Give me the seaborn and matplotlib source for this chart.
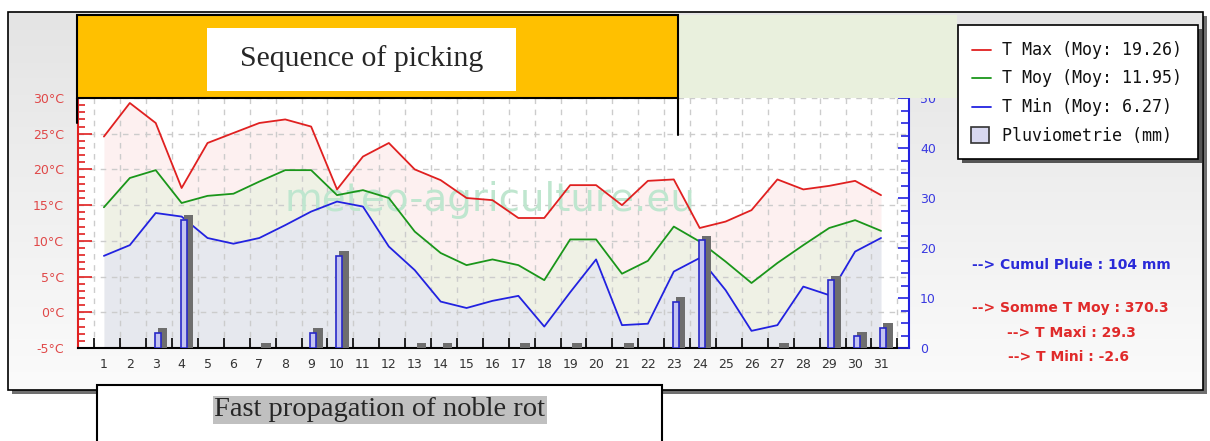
import numpy as np
import matplotlib
matplotlib.use("Agg")
import matplotlib.pyplot as plt
from matplotlib.patches import Rectangle
import seaborn as sns

# Daily data
days = np.arange(1, 32)
tmax = [24.6, 29.3, 26.5, 17.4, 23.7, 25.1, 26.5, 27.0, 26.0, 17.2, 21.8, 23.7, 20.0, 18.5, 16.0, 15.7,
        13.2, 13.2, 17.8, 17.8, 15.0, 18.4, 18.6, 11.8, 12.7, 14.3, 18.6, 17.2, 17.7, 18.4, 16.4]
tmoy = [14.7, 18.8, 19.9, 15.3, 16.3, 16.6, 18.3, 19.9, 19.9, 16.4, 17.1, 16.0, 11.3, 8.3, 6.6, 7.4,
        6.6, 4.5, 10.2, 10.2, 5.4, 7.2, 12.0, 9.9, 7.1, 4.1, 6.9, 9.4, 11.8, 12.9, 11.4]
tmin = [7.9, 9.4, 13.9, 13.4, 10.4, 9.6, 10.4, 12.2, 14.1, 15.5, 14.8, 9.2, 5.9, 1.5, 0.6, 1.6,
        2.3, -2.0, 2.8, 7.4, -1.8, -1.6, 5.7, 7.6, 3.1, -2.6, -1.8, 3.6, 2.4, 8.5, 10.4]
rain = [0, 0, 3.1, 25.7, 0, 0, 0.2, 0, 3.1, 18.5, 0, 0, 0.2, 0.2, 0, 0, 0.2, 0, 0.2, 0, 0.2, 0,
        9.3, 21.6, 0, 0, 0.2, 0, 13.6, 2.4, 4.1]
temp_ticks = [-5, 0, 5, 10, 15, 20, 25, 30]
rain_ticks = [0, 10, 20, 30, 40, 50]
legend_labels = ["T Max (Moy: 19.26)", "T Moy (Moy: 11.95)", "T Min (Moy: 6.27)", "Pluviometrie (mm)"]
summary = ["--> Cumul Pluie : 104 mm", "--> Somme T Moy : 370.3", "--> T Maxi : 29.3", "--> T Mini : -2.6"]

RED, GREEN, BLUE = "#e02020", "#1a961a", "#2222e0"
W, H = 1210, 441

sns.set_theme(style="white")
plt.rcParams["font.family"] = ["DejaVu Sans"]

fig = plt.figure(figsize=(W / 100, H / 100), dpi=100)
fig.patch.set_facecolor("white")

# background frame
bg = fig.add_axes([0, 0, 1, 1], zorder=-2)
bg.set_xlim(0, W)
bg.set_ylim(H, 0)
bg.axis("off")
bg.add_patch(Rectangle((12, 16), 1195, 378, fc="#707070", ec="none"))
grad = np.linspace(0, 1, 200).reshape(-1, 1)
bg.imshow(grad, cmap=matplotlib.colors.LinearSegmentedColormap.from_list("g", ["#e4e4e4", "#fbfbfb"]),
          extent=(8, 1203, 390, 12), aspect="auto", zorder=1)
bg.add_patch(Rectangle((8, 12), 1195, 378, fc="none", ec="black", lw=1.2, zorder=2))

# main temperature axes
ax = fig.add_axes([78 / W, 1 - 348 / H, (909 - 78) / W, 250 / H])
ax.set_facecolor("white")
ax.fill_between(days, tmoy, tmax, color="#fdf0f0", lw=0, zorder=0.2)
ax.fill_between(days, tmin, tmoy, color="#eff1e5", lw=0, zorder=0.2)
ax.fill_between(days, -5, tmin, color="#e6e8ee", lw=0, zorder=0.2)
ax.text(15.9, 15.7, "meteo-agriculture.eu", fontsize=28, color="#bfe6cf", ha="center", va="center", zorder=1)
sns.lineplot(x=days, y=tmax, ax=ax, color=RED, lw=1.3, legend=False, zorder=3)
sns.lineplot(x=days, y=tmoy, ax=ax, color=GREEN, lw=1.3, legend=False, zorder=3)
sns.lineplot(x=days, y=tmin, ax=ax, color=BLUE, lw=1.3, legend=False, zorder=3)

ax.set_xlim(0, 32.08)
ax.set_ylim(-5, 30)
ax.set_xlabel("")
ax.set_ylabel("")
ax.set_xticks(days)
ax.set_xticklabels([str(d) for d in days])
ax.set_xticks(np.arange(1, 33) - 0.37, minor=True)
ax.set_yticks(temp_ticks)
ax.set_yticklabels([f"{t}°C" for t in temp_ticks])
ax.set_yticks(np.arange(-5, 31, 1), minor=True)
ax.tick_params(axis="x", which="major", length=0, pad=7, labelsize=9, labelcolor="#333333")
ax.tick_params(axis="x", which="minor", bottom=True, direction="in", length=7, width=1.2, color="black")
ax.tick_params(axis="y", which="major", left=True, direction="in", length=10, width=1.2, color=RED,
               labelcolor="#e04848", labelsize=9, pad=10)
ax.tick_params(axis="y", which="minor", left=True, direction="in", length=5, width=1.2, color=RED)
ax.grid(axis="y", which="major", ls=(0, (4, 4)), color="#cccccc", lw=1)
ax.grid(axis="x", which="minor", ls=(0, (4, 4)), color="#cccccc", lw=1)
ax.set_axisbelow(True)
for s in ["top", "right"]:
    ax.spines[s].set_visible(False)
ax.spines["left"].set_color(RED)
ax.spines["left"].set_linewidth(1.5)
ax.spines["bottom"].set_color("black")
ax.spines["bottom"].set_linewidth(1.5)

# rain axes
ax2 = ax.twinx()
ax2.set_ylim(0, 50)
r = np.array(rain)
wet = r > 0
ax2.bar(days[wet] + 0.08, r[wet] + 0.9, width=0.37, align="edge", color="#6e6e6e", lw=0, zorder=1)
big = r >= 1
ax2.bar(days[big] - 0.03, r[big], width=0.23, align="edge", facecolor="#c4c4f0", edgecolor="#2828c8",
        lw=1.2, zorder=2)
ax2.set_yticks(rain_ticks)
ax2.set_yticks(np.arange(0, 50.1, 2.5), minor=True)
ax2.tick_params(axis="y", which="major", right=True, direction="in", length=8, width=1.2, color=BLUE,
                labelcolor="#3a3ae0", labelsize=9, pad=8)
ax2.tick_params(axis="y", which="minor", right=True, direction="in", length=6, width=1.2, color=BLUE)
ax2.grid(False)
for s in ["top", "left", "bottom"]:
    ax2.spines[s].set_visible(False)
ax2.spines["right"].set_color(BLUE)
ax2.spines["right"].set_linewidth(1.5)

# overlay (pixel coordinates)
top = fig.add_axes([0, 0, 1, 1], zorder=10)
top.set_xlim(0, W)
top.set_ylim(H, 0)
top.patch.set_alpha(0)
top.axis("off")

top.add_patch(Rectangle((678, 15), 279, 83, fc="#e9f0dd", ec="none"))
top.add_patch(Rectangle((77, 15), 601, 83, fc="#ffc000", ec="black", lw=1.5))
top.add_patch(Rectangle((207, 28), 309, 63, fc="white", ec="none"))
top.text(362, 59, "Sequence of picking", fontsize=21.5, family="Liberation Serif", ha="center", va="center")
top.plot([77, 77], [98, 123], color="black", lw=1.5)
top.plot([678, 678], [98, 135], color="black", lw=1.5)

# legend box
top.add_patch(Rectangle((962, 29), 240, 134, fc="#555555", ec="none"))
top.add_patch(Rectangle((958, 25), 240, 134, fc="white", ec="black", lw=1.2))
rows = [50, 78, 107, 136]
for yy, c in zip(rows[:3], [RED, GREEN, BLUE]):
    top.plot([972, 991], [yy, yy], color=c, lw=1.3)
top.add_patch(Rectangle((971, 127), 18, 16, fc="#d8d8f0", ec="#333333", lw=1.2))
for yy, lab in zip(rows, legend_labels):
    top.text(1002, yy, lab, fontsize=12, family="DejaVu Sans Mono", va="center", ha="left", color="#111111")

# summary text
top.text(972, 265, summary[0], color="#2a2ad8", fontsize=10, fontweight="bold", va="center")
top.text(972, 308, summary[1], color="#e02a2a", fontsize=10, fontweight="bold", va="center")
top.text(1007, 333, summary[2], color="#e02a2a", fontsize=10, fontweight="bold", va="center")
top.text(1008, 357, summary[3], color="#e02a2a", fontsize=10, fontweight="bold", va="center")

# bottom box
top.add_patch(Rectangle((97, 385), 565, 70, fc="white", ec="black", lw=1.5))
top.text(380, 410, "Fast propagation of noble rot", fontsize=20.5, family="Liberation Serif",
         ha="center", va="center",
         bbox=dict(facecolor="#c0c0c0", edgecolor="none", pad=1.5))

fig.savefig("out.png", dpi=100)
